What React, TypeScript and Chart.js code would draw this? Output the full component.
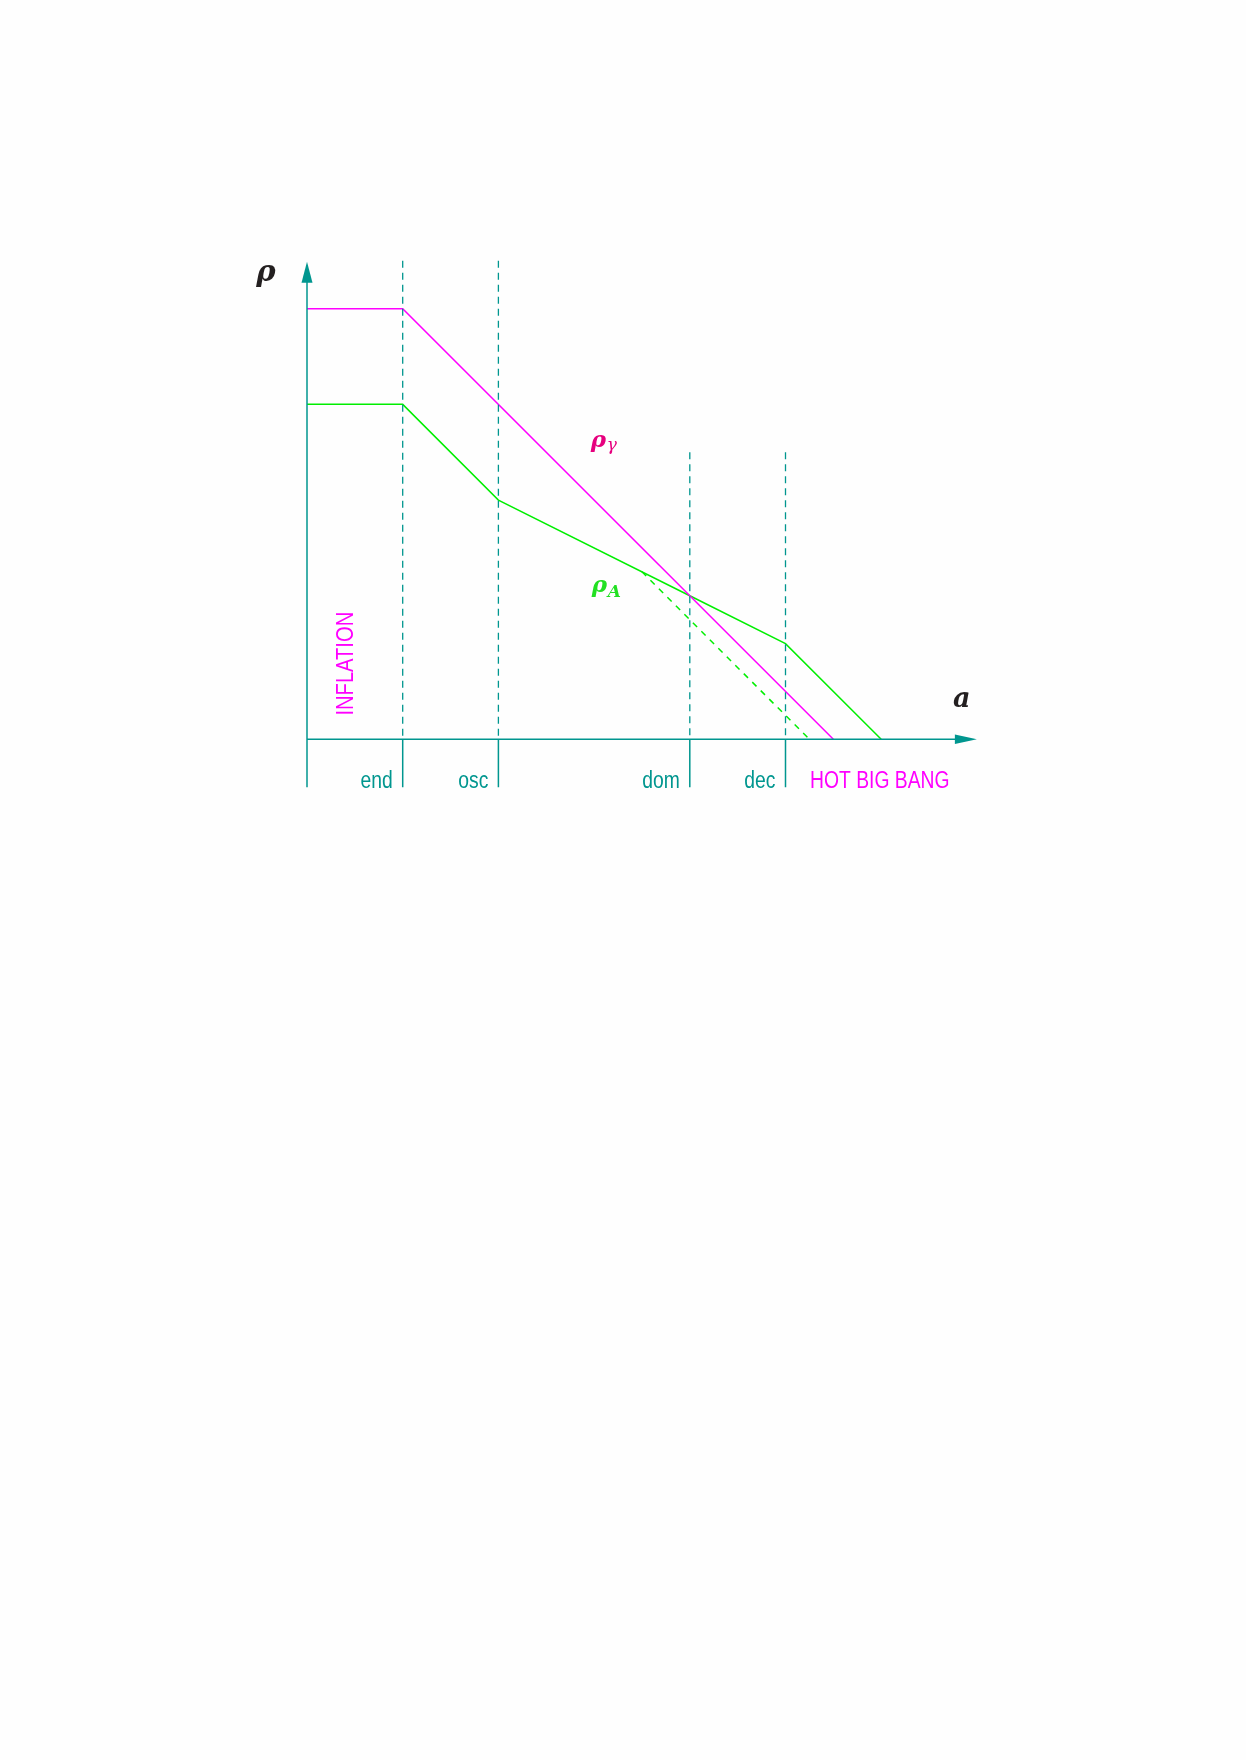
import React, { useEffect, useRef } from "react";
import { Chart, registerables } from "chart.js";

Chart.register(...registerables);

// ---- data (scale factor a on x, energy density rho on y, schematic log units) ----
const phaseNames = ["end", "osc", "dom", "dec"];
const phaseA = [1, 2, 4, 5];
const phaseTop = [5, 5, 3, 3];

const rhoGammaA = [0, 1, 5.5];
const rhoGammaV = [4.5, 4.5, 0];

const rhoAxA = [0, 1, 2, 4, 5, 6];
const rhoAxV = [3.5, 3.5, 2.5, 1.5, 1, 0];

const rhoAltA = [3.5, 5.25];
const rhoAltV = [1.75, 0];

const xMin = 0;
const xMax = 7;
const yMin = 0;
const yMax = 5;
const tickBottom = -0.5;

const TEAL = "#00968f";
const MAGENTA = "#ff00ff";
const GREEN = "#00ee00";
const SANS = "'Liberation Sans', Arial, sans-serif";
const MATH = "'DejaVu Serif', serif";
const CONDENSE = 0.84;

const pts = (xs: number[], ys: number[]) => xs.map((x, i) => ({ x, y: ys[i] }));

function narrowText(
  ctx: CanvasRenderingContext2D,
  text: string,
  x: number,
  y: number,
  align: "left" | "right" | "center"
) {
  const w = ctx.measureText(text).width * CONDENSE;
  let sx = x;
  if (align === "right") sx = x - w;
  if (align === "center") sx = x - w / 2;
  ctx.save();
  ctx.textAlign = "left";
  ctx.translate(sx, y);
  ctx.scale(CONDENSE, 1);
  ctx.fillText(text, 0, 0);
  ctx.restore();
}

const annotPlugin = {
  id: "annot",
  afterDatasetsDraw(chart: any) {
    const ctx = chart.ctx as CanvasRenderingContext2D;
    const xs = chart.scales.x;
    const ys = chart.scales.y;
    const px = (v: number) => xs.getPixelForValue(v);
    const py = (v: number) => ys.getPixelForValue(v);
    ctx.save();
    // arrowheads
    ctx.fillStyle = TEAL;
    const x0 = px(0);
    const y0 = py(0);
    const yTip = py(yMax) + 1;
    ctx.beginPath();
    ctx.moveTo(x0, yTip);
    ctx.lineTo(x0 - 5.5, yTip + 21);
    ctx.lineTo(x0 + 5.5, yTip + 21);
    ctx.closePath();
    ctx.fill();
    const xTip = px(xMax);
    ctx.beginPath();
    ctx.moveTo(xTip, y0);
    ctx.lineTo(xTip - 22, y0 - 4.8);
    ctx.lineTo(xTip - 22, y0 + 4.8);
    ctx.closePath();
    ctx.fill();

    // phase labels
    ctx.font = `23px ${SANS}`;
    ctx.fillStyle = TEAL;
    ctx.textBaseline = "alphabetic";
    phaseNames.forEach((n, i) => {
      narrowText(ctx, n, px(phaseA[i]) - 10, py(tickBottom) + 1, "right");
    });
    ctx.fillStyle = MAGENTA;
    narrowText(ctx, "HOT BIG BANG", px(5.256), py(tickBottom) + 1, "left");

    // INFLATION rotated
    ctx.save();
    ctx.translate(px(0.41), py(0.79));
    ctx.rotate(-Math.PI / 2);
    ctx.font = `24px ${SANS}`;
    ctx.textBaseline = "middle";
    ctx.fillStyle = MAGENTA;
    narrowText(ctx, "INFLATION", 0, 0, "center");
    ctx.restore();

    // math labels
    ctx.textAlign = "left";
    ctx.textBaseline = "alphabetic";
    ctx.fillStyle = "#231f20";
    ctx.font = `italic bold 29px ${MATH}`;
    ctx.fillText("ρ", px(-0.53), py(4.79));
    ctx.font = `italic bold 27px ${MATH}`;
    ctx.fillText("a", px(6.75), py(0.34));

    ctx.fillStyle = "#e6007e";
    ctx.font = `italic bold 23px ${MATH}`;
    ctx.fillText("ρ", px(2.965), py(3.05));
    ctx.font = `italic 17px ${MATH}`;
    ctx.fillText("γ", px(2.965) + 16, py(3.05) + 3);

    ctx.fillStyle = "#22e022";
    ctx.font = `italic bold 23px ${MATH}`;
    ctx.fillText("ρ", px(2.975), py(1.54));
    ctx.font = `italic bold 17px ${MATH}`;
    ctx.fillText("A", px(2.975) + 16, py(1.54) + 5);
    ctx.restore();
  },
};

export default function App() {
  const ref = useRef<HTMLCanvasElement | null>(null);
  useEffect(() => {
    if (!ref.current) return;
    const unit = 95.7;
    const left = 307;
    const axisY = 739.3;
    const datasets: any[] = [];
    // axes
    datasets.push({
      data: [{ x: 0, y: tickBottom }, { x: 0, y: yMax - 0.2 }],
      borderColor: TEAL, borderWidth: 1.5,
    });
    datasets.push({
      data: [{ x: 0, y: 0 }, { x: xMax - 0.2, y: 0 }],
      borderColor: TEAL, borderWidth: 1.5,
    });
    // dashed phase markers and solid ticks
    phaseA.forEach((a, i) => {
      datasets.push({
        data: [{ x: a, y: phaseTop[i] }, { x: a, y: 0 }],
        borderColor: TEAL, borderWidth: 1.3, borderDash: [7, 5],
      });
      datasets.push({
        data: [{ x: a, y: 0 }, { x: a, y: tickBottom }],
        borderColor: TEAL, borderWidth: 1.5,
      });
    });
    datasets.push({ data: pts(rhoGammaA, rhoGammaV), borderColor: MAGENTA, borderWidth: 1.5 });
    datasets.push({ data: pts(rhoAxA, rhoAxV), borderColor: GREEN, borderWidth: 1.5 });
    datasets.push({ data: pts(rhoAltA, rhoAltV), borderColor: GREEN, borderWidth: 1.5, borderDash: [6, 6] });

    datasets.forEach((d) => {
      d.showLine = true;
      d.pointRadius = 0;
      d.fill = false;
      d.clip = false;
      d.tension = 0;
    });

    const chart = new Chart(ref.current, {
      type: "scatter",
      data: { datasets },
      options: {
        responsive: false,
        animation: false,
        devicePixelRatio: 1,
        layout: {
          padding: {
            left,
            right: 1246 - (left + (xMax - xMin) * unit),
            top: axisY - (yMax - yMin) * unit,
            bottom: 1760 - axisY,
          },
        },
        plugins: { legend: { display: false }, tooltip: { enabled: false } },
        scales: {
          x: { type: "linear", min: xMin, max: xMax, display: false },
          y: { type: "linear", min: yMin, max: yMax, display: false },
        },
      },
      plugins: [annotPlugin],
    });
    return () => chart.destroy();
  }, []);
  return (
    <div style={{ position: "absolute", left: 0, top: 0, width: 1246, height: 1760, background: "#fefefe" }}>
      <canvas ref={ref} width={1246} height={1760} style={{ display: "block" }} />
    </div>
  );
}
